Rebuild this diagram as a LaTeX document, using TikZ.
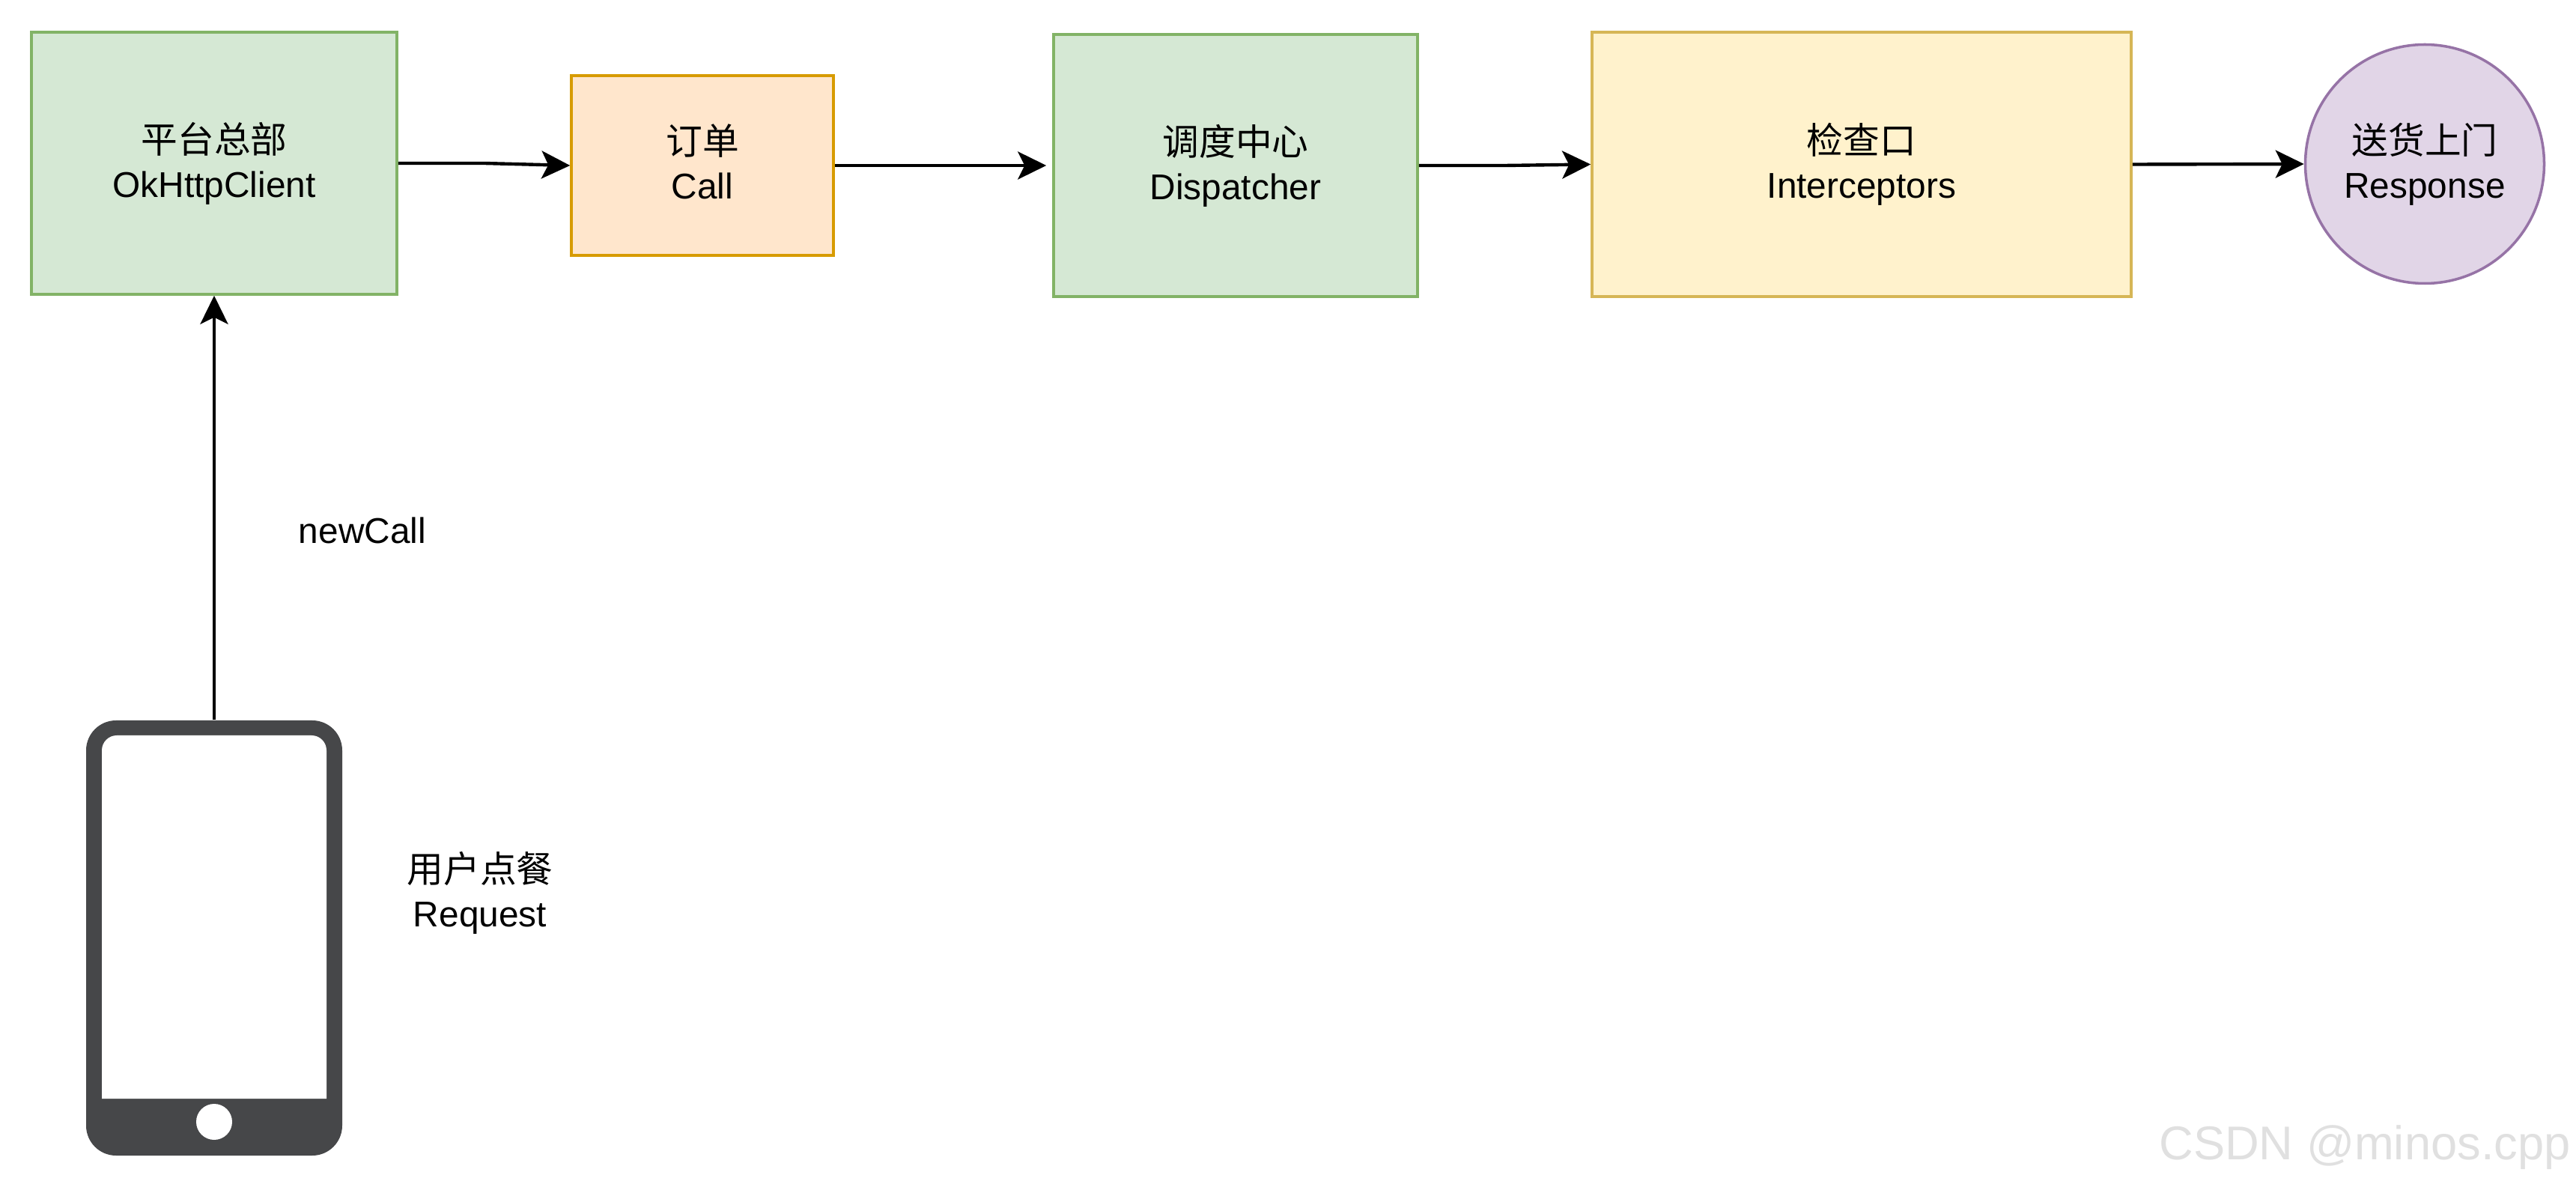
\documentclass[tikz,border=0pt]{standalone}
\usepackage{fontspec}
\setmainfont{Liberation Sans}
\newfontfamily\cjk{Noto Sans CJK SC}[Scale=1.02]
\usepackage{tikz}
\usetikzlibrary{arrows.meta,shapes}

\definecolor{greenfill}{HTML}{D5E8D4}
\definecolor{greenline}{HTML}{82B366}
\definecolor{orangefill}{HTML}{FFE6CC}
\definecolor{orangeline}{HTML}{D79B00}
\definecolor{yellowfill}{HTML}{FFF2CC}
\definecolor{yellowline}{HTML}{D6B656}
\definecolor{purplefill}{HTML}{E1D5E7}
\definecolor{purpleline}{HTML}{9673A6}
\definecolor{phonegray}{HTML}{464749}

\tikzset{
  label text/.style={align=center, font=\fontsize{13.6}{16.8}\selectfont, inner sep=0pt},
  box/.style={rectangle, label text, line width=1pt},
  greenbox/.style={box, draw=greenline, fill=greenfill},
  orangebox/.style={box, draw=orangeline, fill=orangefill},
  yellowbox/.style={box, draw=yellowline, fill=yellowfill},
  link/.style={-{Stealth[length=0.38cm, width=0.37cm, inset=0.09cm]}, line width=1.25pt},
}

\begin{document}
\begin{tikzpicture}
      \useasboundingbox (0,0) rectangle (34.4,15.84);

      \node [greenbox, minimum width=4.88cm, minimum height=3.50cm] (client) at ( 2.86,13.66) {{\cjk 平台总部}\\OkHttpClient};
      \node [orangebox, minimum width=3.50cm, minimum height=2.40cm] (call) at ( 9.38,13.63) {{\cjk 订单}\\Call\vphantom{p}};
      \node [greenbox, minimum width=4.86cm, minimum height=3.50cm] (dispatcher) at (16.50,13.63) {{\cjk 调度中心}\\Dispatcher};
      \node [yellowbox, minimum width=7.20cm, minimum height=3.53cm] (interceptors) at (24.86,13.645) {{\cjk 检查口}\\Interceptors};
      \node [circle, label text, draw=purpleline, fill=purplefill, line width=1pt, minimum size=3.19cm] (response) at (32.38,13.65) {{\cjk 送货上门}\\Response};

      \node [rectangle, fill=phonegray, rounded corners=0.4cm, minimum width=3.42cm, minimum height=5.81cm] (phone) at (2.86,3.315) {};
      \fill [white] (1.36,1.17) [rounded corners=0.2cm] -- (1.36,6.02) -- (4.36,6.02) [sharp corners] -- (4.36,1.17) -- cycle;
      \node [circle, fill=white, minimum size=0.48cm, inner sep=0pt] (home) at (2.86,0.86) {};

      \node [label text] (newcall) at (4.84,8.76) {newCall};
      \node [label text] (request) at (6.41,3.92) {{\cjk 用户点餐}\\Request};
      \node [font=\fontsize{18}{18}\selectfont, text=black!12, inner sep=0pt] (mark) at (31.58,0.52) {CSDN @minos.cpp};

      \draw [link] (phone.north) to (client.south);
      \draw [link] (client.east) -- ++(1.15,0) -- (call.west);
      \draw [link, shorten >=0.08cm] (call.east) -- ++(1.45,0) -- (dispatcher.west);
      \draw [link] (dispatcher.east) -- ++(1.15,0) -- (interceptors.west);
      \draw [link] (interceptors.east) to (response.west);
    \end{tikzpicture}
\end{document}
